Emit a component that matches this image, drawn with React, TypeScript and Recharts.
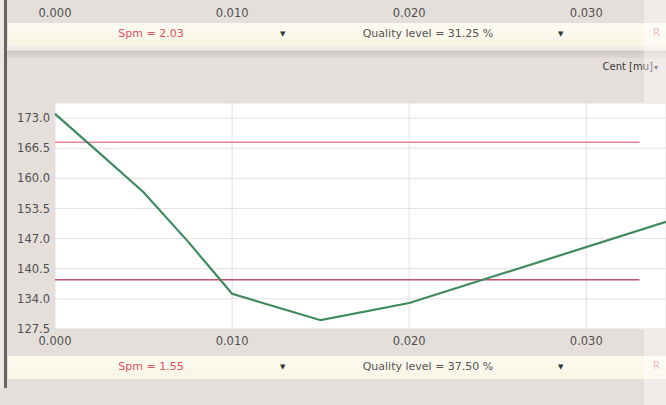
import { LineChart, Line, XAxis, YAxis, CartesianGrid, ReferenceLine } from 'recharts';

const xTicks = [0, 0.01, 0.02, 0.03];
const yTicks = [127.5, 134.0, 140.5, 147.0, 153.5, 160.0, 166.5, 173.0];
const positions = [0, 0.0025, 0.005, 0.0075, 0.01, 0.015, 0.02, 0.0345];
const centValues = [173.9, 165.5, 157.0, 146.4, 135.1, 129.4, 133.1, 150.6];
const upperLimit = 167.8;
const lowerLimit = 138.1;
const topBar = { spm: 'Spm = 2.03', quality: 'Quality level = 31.25 %' };
const bottomBar = { spm: 'Spm = 1.55', quality: 'Quality level = 37.50 %' };

const data = positions.map((x, i) => ({ x, cent: centValues[i] }));

const font = '"DejaVu Sans", sans-serif';
const tickStyle = { fontSize: 11.5, fill: '#505050', fontFamily: font };

function InfoBar({ top, spm, quality }: { top: number; spm: string; quality: string }) {
  const txt: React.CSSProperties = { position: 'absolute', top: 4, fontSize: 11, whiteSpace: 'nowrap' };
  return (
    <div
      style={{
        position: 'absolute',
        left: 8,
        top,
        width: 658,
        height: 23,
        background: 'linear-gradient(#fdfbf0, #f8f5e6)',
      }}
    >
      <span style={{ ...txt, left: 143, transform: 'translateX(-50%)', color: '#e05060' }}>{spm}</span>
      <span style={{ ...txt, left: 272, top: 7, fontSize: 7, color: '#333' }}>▼</span>
      <span style={{ ...txt, left: 420, transform: 'translateX(-50%)', color: '#555' }}>{quality}</span>
      <span style={{ ...txt, left: 550, top: 7, fontSize: 7, color: '#333' }}>▼</span>
      <span style={{ ...txt, left: 645, fontSize: 10, color: '#e89090' }}>R</span>
    </div>
  );
}

export default function App() {
  return (
    <div
      style={{
        position: 'absolute',
        left: 0,
        top: 0,
        width: 666,
        height: 405,
        overflow: 'hidden',
        background: '#e4dfdb',
        fontFamily: font,
      }}
    >
      {/* axis of the panel above */}
      <div style={{ position: 'absolute', left: 0, top: 0 }}>
        <LineChart width={666} height={24} data={data} margin={{ top: 0, right: 0, bottom: 0, left: 55 }}>
          <XAxis
            dataKey="x"
            type="number"
            domain={[0, 0.0345]}
            ticks={xTicks}
            tickFormatter={(v: number) => v.toFixed(3)}
            axisLine={false}
            tickLine={false}
            height={23}
            tick={tickStyle}
          />
          <YAxis hide domain={[127.5, 176.25]} />
          <Line dataKey="cent" stroke="none" dot={false} isAnimationActive={false} />
        </LineChart>
      </div>
      <InfoBar top={23} spm={topBar.spm} quality={topBar.quality} />
      <div
        style={{
          position: 'absolute',
          left: 0,
          top: 46,
          width: 666,
          height: 12,
          background: 'linear-gradient(#f0ece8 0%, #f0ece8 30%, #cfc9c5 45%, #dcd7d3 100%)',
        }}
      />
      <div
        style={{
          position: 'absolute',
          right: 8,
          top: 61,
          fontSize: 10,
          color: '#3a3a3a',
          whiteSpace: 'nowrap',
        }}
      >
        Cent [mu]<span style={{ fontSize: 8, marginLeft: 1 }}>▾</span>
      </div>

      {/* main chart */}
      <div style={{ position: 'absolute', left: 0, top: 90 }}>
        <LineChart width={666} height={263} data={data} margin={{ top: 13, right: 0, bottom: 0, left: 0 }}>
          <CartesianGrid fill="#ffffff" stroke="#e4dfe4" strokeWidth={1} />
          <XAxis
            dataKey="x"
            type="number"
            domain={[0, 0.0345]}
            ticks={xTicks}
            tickFormatter={(v: number) => v.toFixed(3)}
            axisLine={false}
            tickLine={false}
            height={24}
            tick={tickStyle}
          />
          <YAxis
            type="number"
            domain={[127.5, 176.25]}
            ticks={yTicks}
            tickFormatter={(v: number) => v.toFixed(1)}
            axisLine={false}
            tickLine={false}
            tickSize={3}
            width={55}
            tick={tickStyle}
          />
          <ReferenceLine
            segment={[{ x: 0, y: upperLimit }, { x: 0.033, y: upperLimit }]}
            stroke="#e88498"
            strokeWidth={1.5}
          />
          <ReferenceLine
            segment={[{ x: 0, y: lowerLimit }, { x: 0.033, y: lowerLimit }]}
            stroke="#c4506c"
            strokeWidth={1.5}
          />
          <Line
            type="linear"
            dataKey="cent"
            stroke="#3f8a5e"
            strokeWidth={2.2}
            dot={false}
            isAnimationActive={false}
          />
        </LineChart>
      </div>

      <InfoBar top={356} spm={bottomBar.spm} quality={bottomBar.quality} />

      {/* window frame on the left */}
      <div style={{ position: 'absolute', left: 0, top: 0, width: 4, height: 388, background: '#ebe7e4' }} />
      <div style={{ position: 'absolute', left: 4, top: 0, width: 3, height: 388, background: '#6a625e' }} />
      {/* lighter strip on the right edge */}
      <div
        style={{ position: 'absolute', left: 644, top: 0, width: 22, height: 103, background: 'rgba(255,255,255,0.4)' }}
      />
      <div
        style={{ position: 'absolute', left: 644, top: 329, width: 22, height: 76, background: 'rgba(255,255,255,0.4)' }}
      />
    </div>
  );
}
